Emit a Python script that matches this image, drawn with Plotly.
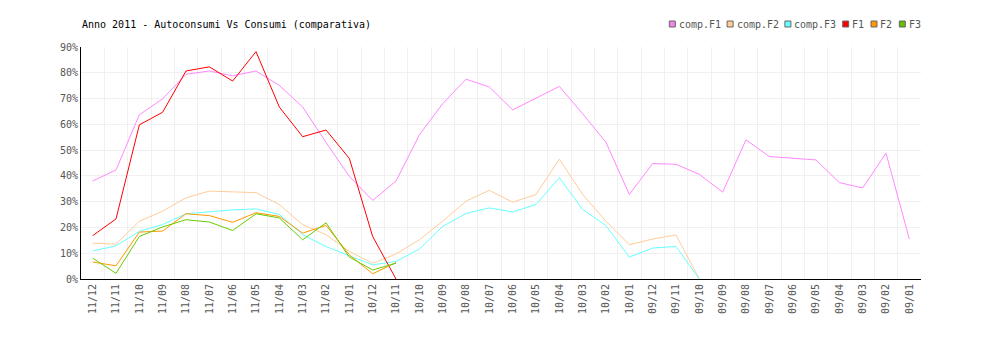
import plotly.graph_objects as go

categories = ["11/12", "11/11", "11/10", "11/09", "11/08", "11/07", "11/06", "11/05", "11/04",
              "11/03", "11/02", "11/01", "10/12", "10/11", "10/10", "10/09", "10/08", "10/07",
              "10/06", "10/05", "10/04", "10/03", "10/02", "10/01", "09/12", "09/11", "09/10",
              "09/09", "09/08", "09/07", "09/06", "09/05", "09/04", "09/03", "09/02", "09/01"]

comp_f1 = [38.0, 42.3, 63.7, 69.9, 79.4, 80.7, 78.8, 80.7, 75.1, 66.7, 53.0, 39.8, 30.5, 38.0,
           55.9, 68.0, 77.5, 74.5, 65.6, 70.2, 74.7, 64.1, 53.0, 32.8, 44.8, 44.5, 40.6, 33.7,
           54.0, 47.5, 46.9, 46.2, 37.4, 35.3, 48.8, 15.5]
comp_f2 = [13.9, 13.5, 22.4, 26.3, 31.5, 34.1, 33.8, 33.5, 28.9, 21.1, 17.2, 10.7, 6.1, 9.7,
           15.2, 22.4, 30.2, 34.4, 29.8, 32.8, 46.5, 32.8, 22.4, 13.3, 15.5, 17.1, 0.0]
comp_f3 = [10.9, 12.9, 18.5, 21.1, 25.3, 26.0, 26.8, 27.2, 25.0, 17.2, 12.6, 9.0, 5.5, 6.8,
           11.6, 20.4, 25.4, 27.6, 26.0, 28.9, 39.3, 27.0, 20.7, 8.5, 12.0, 12.6, 0.0]
f1 = [16.8, 23.3, 59.8, 64.7, 80.7, 82.3, 76.8, 88.2, 66.7, 55.2, 57.8, 46.8, 16.5, 0.0]
f2 = [6.6, 5.1, 18.2, 18.6, 25.3, 24.6, 22.0, 25.7, 24.3, 17.8, 20.8, 9.4, 2.0, 6.4]
f3 = [8.1, 2.2, 16.5, 20.2, 23.0, 22.1, 18.8, 25.3, 23.7, 15.2, 21.8, 8.5, 3.5, 6.1]

series_names = ["comp.F1", "comp.F2", "comp.F3", "F1", "F2", "F3"]
series_values = [comp_f1, comp_f2, comp_f3, f1, f2, f3]
line_colors = ["#ff88ff", "#ffcc99", "#66ffff", "#ff0000", "#ff9900", "#66cc00"]
legend_fill = ["#ee88ee", "#ffcc99", "#66ffff", "#ff0000", "#ff9900", "#66bb00"]

title_text = "Anno 2011 - Autoconsumi Vs Consumi (comparativa)"

W, H = 1000, 340
ML, MR, MT, MB = 81, 79, 47, 61
PW, PH = W - ML - MR, H - MT - MB
FONT = "DejaVu Sans Mono"

fig = go.Figure()
for name, vals, col in zip(series_names, series_values, line_colors):
    fig.add_trace(go.Scatter(
        x=categories[:len(vals)], y=vals, name=name, mode="lines",
        line=dict(color=col, width=1), showlegend=False, hoverinfo="x+y+name"))


def px_x(p):
    return (p - ML) / PW


def px_y(p):
    return (H - MB - p) / PH


# custom legend (squares + real text)
shapes = []
annotations = []
x = 669.3
char_w = 5.9
for name, fill in zip(series_names, legend_fill):
    shapes.append(dict(type="rect", xref="paper", yref="paper",
                       x0=px_x(x), x1=px_x(x + 6), y0=px_y(27), y1=px_y(21),
                       fillcolor=fill, line=dict(color="#666666", width=1)))
    annotations.append(dict(text=name, xref="paper", yref="paper",
                            x=px_x(x + 8.5), y=px_y(24), xanchor="left", yanchor="middle",
                            showarrow=False, borderpad=0,
                            font=dict(family=FONT, size=10, color="#555555")))
    x += 10 + char_w * len(name) + 6.5

# title as annotation so it can sit at the plot's left edge
annotations.append(dict(text=title_text, xref="paper", yref="paper",
                        x=0, y=px_y(24), xanchor="left", yanchor="middle",
                        showarrow=False, borderpad=0,
                        font=dict(family=FONT, size=10, color="#000000")))

fig.update_layout(
    width=W, height=H,
    margin=dict(l=ML, r=MR, t=MT, b=MB, pad=0),
    paper_bgcolor="#ffffff", plot_bgcolor="#ffffff",
    font=dict(family=FONT, size=10, color="#555555"),
    showlegend=False,
    shapes=shapes,
    annotations=annotations,
    xaxis=dict(type="category", categoryorder="array", categoryarray=categories,
               range=[-0.5, len(categories) - 0.5], tickson="boundaries",
               tickmode="array", tickvals=categories, ticktext=categories,
               tickangle=-90, ticks="", showgrid=True, gridcolor="#f0f0f0", gridwidth=1,
               showline=True, linecolor="#000000", linewidth=1,
               tickfont=dict(family=FONT, size=10, color="#555555"),
               zeroline=False, fixedrange=True),
    yaxis=dict(range=[0, 90], dtick=10, tick0=0, ticksuffix="%", ticks="",
               showgrid=True, gridcolor="#f0f0f0", gridwidth=1,
               showline=True, linecolor="#000000", linewidth=1,
               tickfont=dict(family=FONT, size=10, color="#555555"),
               zeroline=False, fixedrange=True),
)

fig.write_html("out.html")
